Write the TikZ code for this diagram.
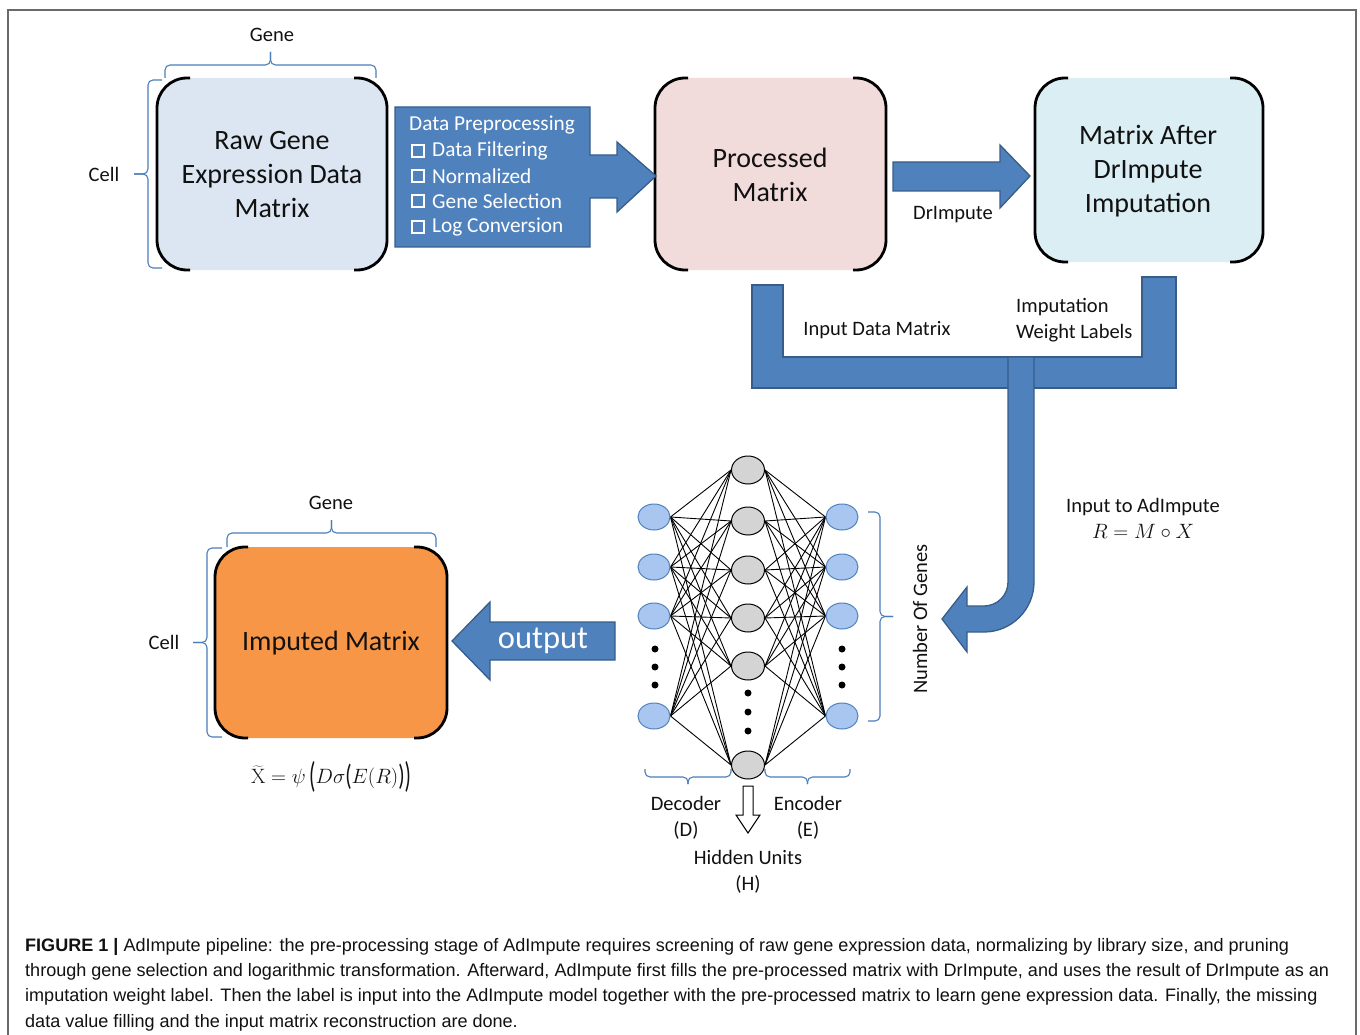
\documentclass[tikz,border=0pt]{standalone}
\usepackage[no-math]{fontspec}
\usepackage{graphicx}
\setmainfont{Carlito}
\newfontfamily\capfont{Liberation Sans}
\usetikzlibrary{backgrounds,shapes.geometric}
\definecolor{abl}{HTML}{4F81BD}
\definecolor{abd}{HTML}{385D8A}
\definecolor{rawc}{HTML}{DCE6F2}
\definecolor{proc}{HTML}{F2DCDB}
\definecolor{aftc}{HTML}{DAEEF3}
\definecolor{orng}{HTML}{F79646}
\definecolor{brc}{HTML}{4A7EBB}
\definecolor{nodeb}{HTML}{A8C6EF}
\definecolor{nodeg}{HTML}{D4D4D4}
\definecolor{txt}{HTML}{111111}
\definecolor{frm}{HTML}{6A6A6A}
\newcommand\tallp[2]{\raisebox{#2}{\scalebox{1}[#1]{(}}}
\newcommand\tallq[2]{\raisebox{#2}{\scalebox{1}[#1]{)}}}
\newcommand\matbox[5]{%
  \fill[#5,rounded corners=30pt] (#1,#2) rectangle (#3,#4);
  \draw[line width=2.8pt,rounded corners=30pt] ({#1+33},#2) -- (#1,#2) -- (#1,#4) -- ({#1+33},#4);
  \draw[line width=2.8pt,rounded corners=30pt] ({#3-33},#2) -- (#3,#2) -- (#3,#4) -- ({#3-33},#4);}
\newcommand\hbr[5]{%
  \draw[brc,line width=1.1pt,rounded corners=5pt] (#1,#3) -- (#1,#4) -- ({(#1+#2)/2},#4) -- ({(#1+#2)/2},#5);
  \draw[brc,line width=1.1pt,rounded corners=5pt] (#2,#3) -- (#2,#4) -- ({(#1+#2)/2},#4) -- ({(#1+#2)/2},#5);}
\newcommand\vbr[5]{%
  \draw[brc,line width=1.1pt,rounded corners=5pt] (#3,#1) -- (#4,#1) -- (#4,{(#1+#2)/2}) -- (#5,{(#1+#2)/2});
  \draw[brc,line width=1.1pt,rounded corners=5pt] (#3,#2) -- (#4,#2) -- (#4,{(#1+#2)/2}) -- (#5,{(#1+#2)/2});}
\begin{document}
\begin{tikzpicture}[x=1pt,y=-1pt,
  blk/.style={fill=abl,draw=abd,line width=1.3pt,line join=miter},
  lbl/.style={text=txt,font=\fontsize{20.5}{26}\selectfont,inner sep=0pt},
  big/.style={text=txt,font=\fontsize{28}{34}\selectfont,align=center,inner sep=0pt},
  wlbl/.style={text=white,font=\fontsize{21.3}{25}\selectfont,inner sep=0pt,anchor=west},
  bnode/.style={ellipse,minimum width=32pt,minimum height=26pt,inner sep=0pt,fill=nodeb,draw=abl,line width=1pt},
  gnode/.style={ellipse,minimum width=33pt,minimum height=28pt,inner sep=0pt,fill=nodeg,draw=black,line width=1pt},
  dot/.style={circle,fill=black,inner sep=0pt,minimum size=7pt},
  chk/.style={draw=white,line width=2.5pt},
  caption/.style={anchor=base west,inner sep=0pt,text=txt,font=\capfont\fontsize{18.05}{25}\selectfont}]
\useasboundingbox (0,0) rectangle (1360,1035);
% outer frame
\draw[frm,line width=1.6pt] (8,1040) -- (8,10) -- (1356,10) -- (1356,1040);

% ---------- top row boxes ----------
\matbox{157}{78}{387}{270}{rawc}
\node[big] (raw) at (272,175) {Raw Gene\\Expression Data\\Matrix};
\hbr{165}{376}{78}{65}{52}
\node[lbl] (gene1) at (272,35) {Gene};
\vbr{80}{268}{162}{148}{134}
\node[lbl] (cell1) at (104,174) {Cell};

\matbox{655}{78}{886}{270}{proc}
\node[big] (proc) at (770,175) {Processed\\Matrix};

\matbox{1035}{78}{1263}{262}{aftc}
\node[big] (after) at (1148,171) {Matrix After\\DrImpute\\Imputation};

% data preprocessing arrow
\draw[blk] (395,107) -- (590,107) -- (590,155) -- (617,155) -- (617,142) -- (656,176)
  -- (617,212) -- (617,198) -- (590,198) -- (590,247) -- (395,247) -- cycle;
\node[wlbl] (dp) at (409,125) {Data Preprocessing};
\foreach \yy/\tt/\nm in {151/Data Filtering/df,176/Normalized/nz,201/Gene Selection/gs,227/Log Conversion/lc}{
  \draw[chk] (412,{\yy-6}) rectangle (424,{\yy+6});
  \node[wlbl] (\nm) at (432,\yy) {\tt};
}

% DrImpute arrow
\draw[blk] (893,162) -- (1000,162) -- (1000,145) -- (1030,176) -- (1000,208) -- (1000,191) -- (893,191) -- cycle;
\node[lbl] (dri) at (953,215) {DrImpute};

% merging U pipe
\draw[blk] (752,285) -- (783,285) -- (783,357) -- (1142,357) -- (1142,277) -- (1176,277) -- (1176,388) -- (752,388) -- cycle;
\node[lbl] (idm) at (877,330) {Input Data Matrix};
\node[lbl,align=left,anchor=west] (iwl) at (1016,320) {Imputation\\Weight Labels};

% bent arrow down to network
\draw[blk] (1034,357) -- (1034,582) .. controls (1034,609.6) and (1011.6,632) .. (984,632)
  -- (967,632) -- (967,652) -- (942,619) -- (967,587) -- (967,606) -- (984,606)
  .. controls (997.25,606) and (1008,595.25) .. (1008,582) -- (1008,357) -- cycle;
\node[lbl] (inad) at (1143,507) {Input to AdImpute};
\node[lbl,font=\fontsize{22}{24}\selectfont] (rmx) at (1143,531) {$R = M \circ X$};

% ---------- network ----------
\node[gnode] (m1) at (748,470) {};
\node[gnode] (m2) at (748,521) {};
\node[gnode] (m3) at (748,570) {};
\node[gnode] (m4) at (748,618) {};
\node[gnode] (m5) at (748,666) {};
\node[gnode] (m6) at (748,765) {};
\node[bnode] (l1) at (654,517) {};
\node[bnode] (l2) at (654,567) {};
\node[bnode] (l3) at (654,616) {};
\node[bnode] (l4) at (654,716) {};
\node[bnode] (r1) at (842,517) {};
\node[bnode] (r2) at (842,567) {};
\node[bnode] (r3) at (842,616) {};
\node[bnode] (r4) at (842,716) {};
\begin{pgfonlayer}{background}
\foreach \a in {l1,l2,l3,l4}{\foreach \b in {m1,m2,m3,m4,m5,m6}{\draw[line width=0.9pt] (\a.east) -- (\b.west);}}
\foreach \a in {r1,r2,r3,r4}{\foreach \b in {m1,m2,m3,m4,m5,m6}{\draw[line width=0.9pt] (\a.west) -- (\b.east);}}
\end{pgfonlayer}
\foreach \yy/\nm in {649/a,667/b,685/c}{
  \node[dot] (ld\nm) at (655,\yy) {};
  \node[dot] (rd\nm) at (842,\yy) {};
}
\foreach \yy/\nm in {693/a,712/b,731/c}{\node[dot] (md\nm) at (748,\yy) {};}

\vbr{512}{721}{868}{880}{893}
\node[lbl,rotate=90] (nog) at (920,619) {Number Of Genes};
\hbr{645}{731}{769}{777}{784}
\hbr{765}{850}{769}{777}{784}
\node[lbl,align=center] (dec) at (686,818) {Decoder\\(D)};
\node[lbl,align=center] (enc) at (808,818) {Encoder\\(E)};
\draw[fill=white,line width=1pt,line join=miter] (743,786) -- (753,786) -- (753,815) -- (760,815) -- (748,833) -- (736,815) -- (743,815) -- cycle;
\node[lbl,align=center] (hid) at (748,872) {Hidden Units\\(H)};

% ---------- output ----------
\draw[blk] (615,622) -- (490,622) -- (490,602) -- (452,641) -- (490,680) -- (490,660) -- (615,660) -- cycle;
\node[text=white,font=\fontsize{32.5}{34}\selectfont,inner sep=0pt] (out) at (543,641) {output};

\matbox{215}{547}{447}{738}{orng}
\node[big] (imp) at (331,643) {Imputed Matrix};
\hbr{227}{436}{547}{533}{520}
\node[lbl] (gene2) at (331,503) {Gene};
\vbr{548}{737}{222}{207}{193}
\node[lbl] (cell2) at (164,642) {Cell};
\node[lbl,font=\fontsize{21}{24}\selectfont] (form) at (331,777) {$\widetilde{\mathrm{X}} = \psi\,\tallp{1.7}{-4.5pt}D\sigma\tallp{1.4}{-2.8pt}E(R)\tallq{1.4}{-2.8pt}\tallq{1.7}{-4.5pt}$};

% ---------- caption ----------
\node[caption] (c1) at (25,951) {\textbf{FIGURE 1 |} AdImpute pipeline: the pre-processing stage of AdImpute requires screening of raw gene expression data, normalizing by library size, and pruning};
\node[caption] (c2) at (25,976) {through gene selection and logarithmic transformation. Afterward, AdImpute first fills the pre-processed matrix with DrImpute, and uses the result of DrImpute as an};
\node[caption] (c3) at (25,1001) {imputation weight label. Then the label is input into the AdImpute model together with the pre-processed matrix to learn gene expression data. Finally, the missing};
\node[caption] (c4) at (25,1027) {data value filling and the input matrix reconstruction are done.};
\end{tikzpicture}
\end{document}
